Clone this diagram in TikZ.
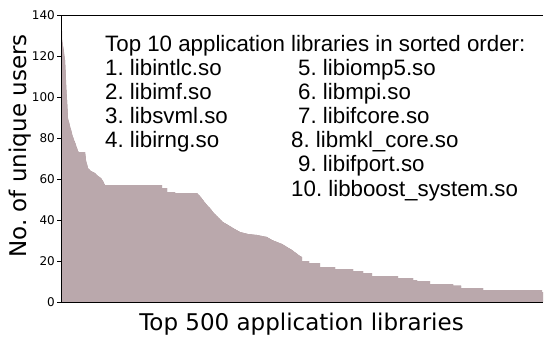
\documentclass[tikz,border=0pt]{standalone}
\usepackage{fontspec}
\setmainfont{Liberation Sans}
\newfontfamily\djv{DejaVu Sans}
\definecolor{barfill}{RGB}{166,141,147}
\definecolor{barline}{RGB}{186,168,172}
\frenchspacing
\begin{document}
\begin{tikzpicture}[x=1bp,y=-1bp,
  axisline/.style={black,line width=1bp},
  ticklab/.style={anchor=east,inner sep=0pt,font=\djv\fontsize{12bp}{14bp}\selectfont},
  axlab/.style={inner sep=0pt,font=\djv\fontsize{23bp}{27bp}\selectfont},
  lib/.style={anchor=base west,inner sep=0pt,font=\fontsize{22.3bp}{26bp}\selectfont}]
\useasboundingbox (0,0) rectangle (544,339);
\def\barpath{(61,302) -- (61,31) -- (62,31) -- (62,38) -- (63,46) -- (64,52) -- (65,60) -- (66,80) -- (67,100) -- (68,118) -- (70,126) -- (73,137) -- (76,145) -- (78,151) -- (79,152) -- (85,152) -- (86,160) -- (88,168) -- (91,171) -- (95,173) -- (98,176) -- (101,178) -- (103,181) -- (105,185) -- (162,185) -- (162,188) -- (167,188) -- (167,192) -- (175,192) -- (175,193) -- (197,193) -- (200,196) -- (203,200) -- (207,205) -- (210,208) -- (213,212) -- (217,216) -- (220,219) -- (223,222) -- (228,225) -- (233,228) -- (240,232) -- (248,234) -- (257,235) -- (267,237) -- (272,240) -- (277,242) -- (282,244) -- (287,247) -- (292,250) -- (296,253) -- (300,256) -- (302,257) -- (302,261) -- (309,261) -- (309,263) -- (320,263) -- (320,267) -- (335,267) -- (335,269) -- (353,269) -- (353,271) -- (363,271) -- (363,273) -- (372,273) -- (372,276) -- (398,276) -- (398,278) -- (413,278) -- (413,280) -- (417,280) -- (417,281) -- (430,281) -- (430,284) -- (453,284) -- (453,285.5) -- (461,285.5) -- (461,288) -- (483,288) -- (483,290) -- (542,290) -- (542,292) -- (543,292) -- (543,302) -- cycle}
\fill[barfill] \barpath;
\begin{scope}
\clip \barpath;
\foreach \i in {1,...,499}{
  \draw[barline,line width=0.35bp] ({61+\i*0.964},10) -- ({61+\i*0.964},305);
}
\end{scope}
% axes
\coordinate (tl) at (61,15);
\coordinate (bl) at (61,302);
\coordinate (tr) at (543,15);
\coordinate (br) at (543,302);
\draw[axisline] (tr) -- (tl) -- (bl) -- (br);
\foreach \v in {0,20,...,140}{
  \coordinate (t\v) at (61,{302-\v*2.05});
  \draw[black,line width=0.8bp] (t\v) -- ++(-4,0);
  \node[ticklab] (l\v) at ({55},{302-\v*2.05}) {\v};
}
\node[axlab,anchor=base] (xlab) at (301.5,330.5) {Top 500 application libraries};
\node[axlab,anchor=base,rotate=90] (ylab) at (26.5,146) {No. of unique users};
% text
\node[lib] (title) at (105,51) {Top 10 application libraries in sorted order:};
\node[lib] (n1) at (105,75) {1. libintlc.so};
\node[lib] (n2) at (105,99.2) {2. libimf.so};
\node[lib] (n3) at (105,123.4) {3. libsvml.so};
\node[lib] (n4) at (105,147.6) {4. libirng.so};
\node[lib] (n5) at (298,75) {5. libiomp5.so};
\node[lib] (n6) at (298,99.2) {6. libmpi.so};
\node[lib] (n7) at (298,123.4) {7. libifcore.so};
\node[lib] (n8) at (291,147.6) {8. libmkl\_core.so};
\node[lib] (n9) at (298,171.8) {9. libifport.so};
\node[lib] (n10) at (291,196) {10. libboost\_system.so};
\end{tikzpicture}
\end{document}
